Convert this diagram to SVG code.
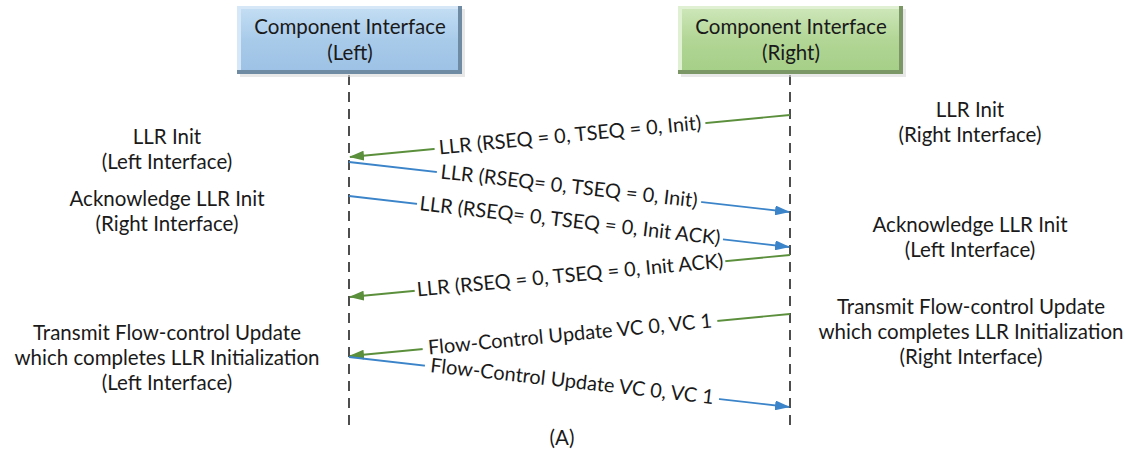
<svg xmlns="http://www.w3.org/2000/svg" width="1130" height="450" viewBox="0 0 1130 450">
<style>
text{font-family:Lato,"Open Sans","Liberation Sans",sans-serif;fill:#1a1a1a;font-size:20.5px;text-anchor:middle}
.lbl{font-size:20px}
.life{stroke:#222;stroke-width:1.6;stroke-dasharray:10 7;fill:none}
.g{stroke:#5b8f3c;stroke-width:1.8;fill:none}
.b{stroke:#3b84c9;stroke-width:1.8;fill:none}
.bg{fill:#fff}
</style>
<defs>
<linearGradient id="gb" x1="0" y1="0" x2="0" y2="1"><stop offset="0" stop-color="#c2ddf3"/><stop offset="0.5" stop-color="#a9cbea"/><stop offset="1" stop-color="#9dc2e5"/></linearGradient>
<linearGradient id="gg" x1="0" y1="0" x2="0" y2="1"><stop offset="0" stop-color="#cde6b8"/><stop offset="0.5" stop-color="#b2d696"/><stop offset="1" stop-color="#a6cf88"/></linearGradient>
<marker id="ag" viewBox="0 0 15 10" refX="14" refY="5" markerWidth="15" markerHeight="10" markerUnits="userSpaceOnUse" orient="auto"><path d="M0,0 L15,5 L0,10 z" fill="#5b8f3c"/></marker>
<marker id="ab" viewBox="0 0 15 10" refX="14" refY="5" markerWidth="15" markerHeight="10" markerUnits="userSpaceOnUse" orient="auto"><path d="M0,0 L15,5 L0,10 z" fill="#3b84c9"/></marker>
</defs>
<rect width="1130" height="450" fill="#fff"/>
<g id="lifelines">
<line class="life" x1="349" y1="75" x2="349" y2="428"/>
<line class="life" x1="790" y1="75" x2="790" y2="428"/>
</g>
<g id="left-box">
<rect x="240" y="9" width="225" height="68" fill="#d8d8d8" opacity="0.6"/>
<rect x="237" y="6" width="225" height="68" fill="#6f8aa3"/>
<rect x="237" y="6" width="221" height="64" fill="#d6e8f7"/>
<rect x="241" y="9" width="217" height="61" fill="url(#gb)"/>
<text x="350" y="34">Component Interface</text>
<text x="350" y="60">(Left)</text>
</g>
<g id="right-box">
<rect x="681" y="9" width="225" height="68" fill="#d8d8d8" opacity="0.6"/>
<rect x="678" y="6" width="225" height="68" fill="#7c9766"/>
<rect x="678" y="6" width="221" height="64" fill="#e0f0d2"/>
<rect x="682" y="9" width="217" height="61" fill="url(#gg)"/>
<text x="791" y="34">Component Interface</text>
<text x="791" y="60">(Right)</text>
</g>
<g id="connectors">
<line class="g" x1="790" y1="115" x2="350" y2="157" marker-end="url(#ag)"/>
<line class="b" x1="349" y1="162" x2="789" y2="212" marker-end="url(#ab)"/>
<line class="b" x1="349" y1="196" x2="789" y2="247" marker-end="url(#ab)"/>
<line class="g" x1="790" y1="255" x2="350" y2="297" marker-end="url(#ag)"/>
<line class="g" x1="790" y1="314" x2="350" y2="356" marker-end="url(#ag)"/>
<line class="b" x1="349" y1="357" x2="789" y2="407" marker-end="url(#ab)"/>
<g transform="translate(570,136) rotate(-5.44)"><rect class="bg" x="-136" y="-11" width="272" height="22"/><text class="lbl" y="6">LLR (RSEQ = 0, TSEQ = 0, Init)</text></g>
<g transform="translate(569,187) rotate(6.47)"><rect class="bg" x="-133" y="-11" width="266" height="22"/><text class="lbl" y="6">LLR (RSEQ= 0, TSEQ = 0, Init)</text></g>
<g transform="translate(570,221.5) rotate(6.6)"><rect class="bg" x="-154" y="-11" width="308" height="22"/><text class="lbl" y="6">LLR (RSEQ= 0, TSEQ = 0, Init ACK)</text></g>
<g transform="translate(570,276) rotate(-5.44)"><rect class="bg" x="-156" y="-11" width="312" height="22"/><text class="lbl" y="6">LLR (RSEQ = 0, TSEQ = 0, Init ACK)</text></g>
<g transform="translate(570,335) rotate(-5.44)"><rect class="bg" x="-148" y="-11" width="296" height="22"/><text class="lbl" y="6">Flow-Control Update VC 0, VC 1</text></g>
<g transform="translate(572,382) rotate(6.47)"><rect class="bg" x="-148" y="-11" width="296" height="22"/><text class="lbl" y="6">Flow-Control Update VC 0, VC 1</text></g>
</g>
<g id="left-notes">
<text x="167" y="144">LLR Init</text>
<text x="167" y="169">(Left Interface)</text>
<text x="167" y="206">Acknowledge LLR Init</text>
<text x="167" y="231">(Right Interface)</text>
<text x="167" y="340">Transmit Flow-control Update</text>
<text x="167" y="365">which completes LLR Initialization</text>
<text x="167" y="390">(Left Interface)</text>
</g>
<g id="right-notes">
<text x="970" y="117">LLR Init</text>
<text x="970" y="142">(Right Interface)</text>
<text x="970" y="232">Acknowledge LLR Init</text>
<text x="970" y="257">(Left Interface)</text>
<text x="971" y="314">Transmit Flow-control Update</text>
<text x="971" y="339">which completes LLR Initialization</text>
<text x="971" y="364">(Right Interface)</text>
</g>
<text x="562" y="445">(A)</text>
</svg>
